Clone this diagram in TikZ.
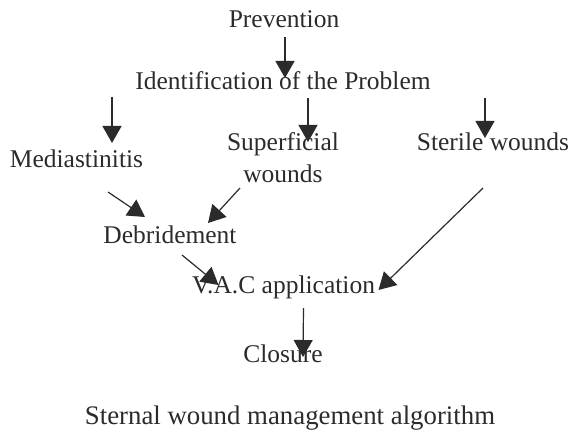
\documentclass[tikz,border=0pt]{standalone}
\usepackage{fontspec}
\setmainfont{Liberation Serif}
\usepackage{xcolor}
\usepackage{tikz}
\usetikzlibrary{calc,arrows.meta}
\definecolor{ink}{HTML}{2B2B2B}
\tikzset{
  lab/.style={text=ink, font=\fontsize{25.5}{32}\selectfont, inner sep=0pt, anchor=base},
  flow/.style={draw=ink, line width=1.2pt, -{Triangle[length=17pt,width=19pt]}}
}
\begin{document}
\begin{tikzpicture}[x=1pt,y=-1pt]
\useasboundingbox (0,0) rectangle (575,433);
% steps
\node[lab] (prev) at (284,28) {Prevention};
\node[lab] (ident) at (283,90) {Identification of the Problem};
\node[lab] (med) at (76.5,167) {Mediastinitis};
\node[lab, align=center] (sup) at (283,182) {Superficial\\wounds};
\node[lab] (steril) at (493,150) {Sterile wounds};
\node[lab] (debr) at (170,243) {Debridement};
\node[lab] (vac) at (283.5,293) {V.A.C application};
\node[lab] (clos) at (283,362) {Closure};

% arrows
\draw[flow] ($(prev.base)+(1,9)$) -- ($(ident.base)+(2,-12)$);
\draw[flow] ($(ident.base)+(-171,7)$) -- ($(med.base)+(35.5,-24)$);
\draw[flow] ($(ident.base)+(25,8)$) -- ($(sup.base)+(25,-40)$);
\draw[flow] ($(ident.base)+(202,8)$) -- ($(steril.base)+(-8,-12)$);
\draw[flow] ($(med.base)+(31.5,25)$) -- ($(debr.base)+(-25,-26)$);
\draw[flow] ($(sup.base)+(-43,6)$) -- ($(debr.base)+(38,-20)$);
\draw[flow] ($(debr.base)+(12,12)$) -- ($(vac.base)+(-65,-8)$);
\draw[flow] ($(steril.base)+(-10,38)$) -- ($(vac.base)+(95,-3)$);
\draw[flow] ($(vac.base)+(20,15)$) -- ($(clos.base)+(20,-5)$);

% caption
\node[lab, font=\fontsize{26.8}{32}\selectfont] (cap) at (290,424) {Sternal wound management algorithm};
\end{tikzpicture}
\end{document}
